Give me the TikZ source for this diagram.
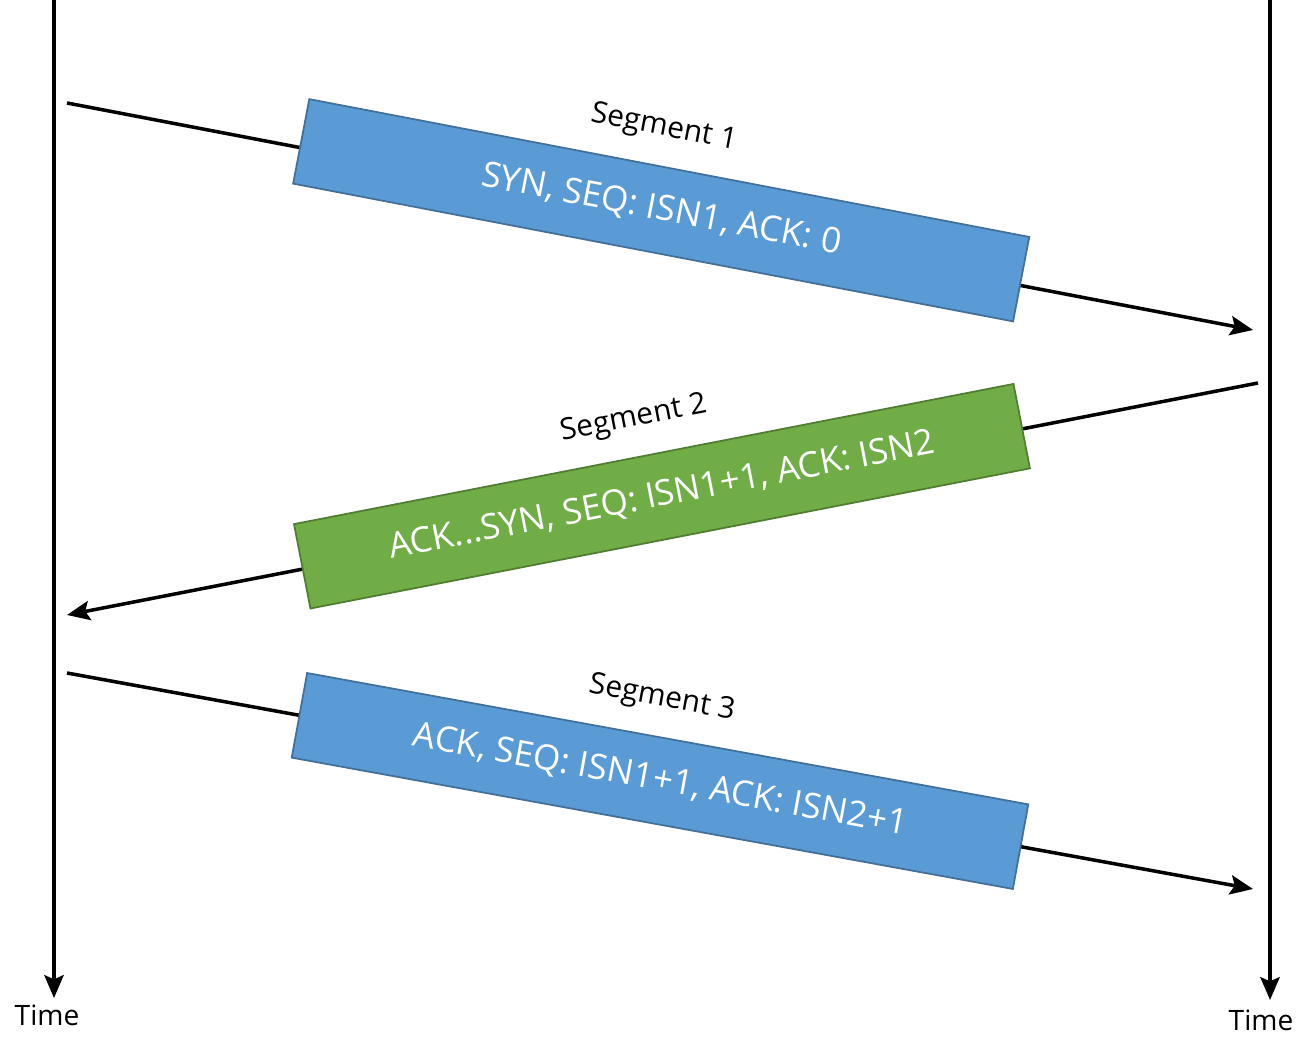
\documentclass[tikz,border=0pt]{standalone}
\usepackage{fontspec}
\setmainfont{Open Sans}
\usetikzlibrary{arrows.meta,calc}
\definecolor{segblue}{HTML}{5B9BD5}
\definecolor{seggreen}{HTML}{70AD47}
\begin{document}
\begin{tikzpicture}[
  tip/.style={-{Stealth[length=6.5pt,width=5.5pt,inset=1.2pt]}},
  timeline/.style={line width=1pt, tip},
  msg/.style={line width=1pt, tip},
  seg/.style={draw=#1!72!black, fill=#1, line width=0.5pt, sloped,
    minimum width=7.33cm, minimum height=0.86cm, inner sep=0pt,
    text=white, font=\fontsize{10}{12}\selectfont},
  seglabel/.style={font=\fontsize{8.5}{10}\selectfont, inner sep=0pt},
  timelabel/.style={font=\fontsize{8}{10}\selectfont, inner sep=0pt, anchor=north}
]
\useasboundingbox (0,0) rectangle (13.06,10.37);

% time axes of the two hosts
\coordinate (ltop) at (0.54,10.37);
\coordinate (rtop) at (12.70,10.37);
\node[timelabel] (ltime) at (0.47,0.33) {Time};
\node[timelabel] (rtime) at (12.61,0.28) {Time};
\draw[timeline] (ltop) -- ($(ltop |- ltime.north)+(0,0.06)$);
\draw[timeline] (rtop) -- ($(rtop |- rtime.north)+(0,0.09)$);

% segment 1: client -> server
\coordinate (s1a) at (0.67,9.34);
\coordinate (s1b) at (12.53,7.07);
\draw[msg] (s1a) -- node[seg=segblue, yshift=1.8pt] (b1) {SYN, SEQ: ISN1, ACK: 0} (s1b);
\node[seglabel, rotate=-10.84] (l1) at ($(b1.center)!0.82cm!99:(b1.east)$) {Segment 1};

% segment 2: server -> client
\coordinate (s2a) at (12.58,6.54);
\coordinate (s2b) at (0.67,4.22);
\draw[msg] (s2a) -- node[seg=seggreen, yshift=0.8pt] (b2) {ACK...SYN, SEQ: ISN1+1, ACK: ISN2} (s2b);
\node[seglabel, rotate=10.98] (l2) at ($(b2.center)!0.82cm!99:(b2.east)$) {Segment 2};

% segment 3: client -> server
\coordinate (s3a) at (0.67,3.64);
\coordinate (s3b) at (12.53,1.48);
\draw[msg] (s3a) -- node[seg=segblue] (b3) {ACK, SEQ: ISN1+1, ACK: ISN2+1} (s3b);
\node[seglabel, rotate=-10.32] (l3) at ($(b3.center)!0.82cm!99:(b3.east)$) {Segment 3};
\end{tikzpicture}
\end{document}
